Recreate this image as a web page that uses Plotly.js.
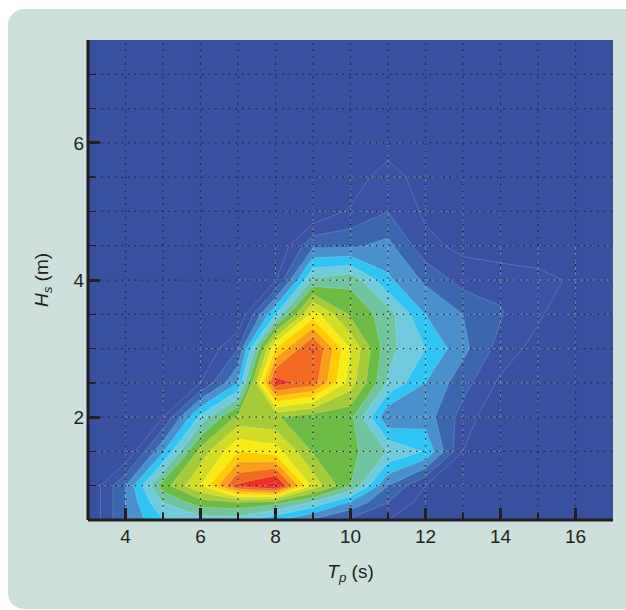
<!DOCTYPE html>
<html><head><meta charset="utf-8">
<script src="https://cdn.plot.ly/plotly-3.0.0.min.js"></script>
<style>
html,body{margin:0;padding:0;background:#fff;width:626px;height:610px;overflow:hidden}
#panel{position:absolute;left:8px;top:9px;width:640px;height:600px;background:#cde0dc;border-radius:16px}
#chart{position:absolute;left:0;top:0;width:626px;height:610px}
</style></head><body>
<div id="panel"></div><div id="chart"></div>
<script>
const tp = [3,4,5,6,7,8,9,10,11,12,13,14,15,16,17];
const hs = [0.5,0.75,1,1.5,2,2.5,3,3.5,4,4.5,5,5.5,6,6.5,7,7.5];
const gridRows = [1,1.5,2,2.5,3,3.5,4,4.5,5,5.5,6,6.5,7];
const row05 = [0,3,5,5.5,5.5,4.2,2.8,1.8,1,0,0,0,0,0,0];
const row075 = [0,3,6,7.5,7.8,7.3,5.8,3.8,2,0.5,0,0,0,0,0];
const row10 = [0,3,7.5,10,14.2,15.5,9.7,7,3,1,0,0,0,0,0];
const row15 = [0,0,3.9,8.4,11,10.5,7.9,7.3,5.95,4.9,1,0,0,0,0];
const row20 = [0,0,1,5.3,8.3,8.1,7.4,7.3,3.1,3.5,1.6,0,0,0,0];
const row25 = [0,0,0,1,4,14.5,13.5,9.5,5.9,4,2.4,0.8,0,0,0];
const row30 = [0,0,0,0,2,11,14.2,10,6.3,5,3.3,1.6,0.6,0,0];
const row35 = [0,0,0,0,0,5,10.5,7.8,6.5,4,3,2.1,1.2,0,0];
const row40 = [0,0,0,0,0,0.9,6.2,6.7,4.2,2.8,1.6,1.7,1.5,0.75,0];
const row45 = [0,0,0,0,0,0,2.8,2.8,3.3,1.3,0.72,0.3,0,0,0];
const row50 = [0,0,0,0,0,0,0,1.2,2,0.8,0,0,0,0,0];
const row55 = [0,0,0,0,0,0,0,0,1.95,0,0,0,0,0,0];
const zero = tp.map(()=>0);
const zGrid = [row05,row075,row10,row15,row20,row25,row30,row35,row40,row45,row50,row55,zero,zero,zero,zero];
const bandColors = ['#3850a0','#3a53a4','#3c66ae','#4a90cc','#2ec5f4','#70cbdc','#70c4a0','#6cbb45','#a5cb38','#d3dc25','#f8ec14','#ffcb05','#f99d1c','#f26b21','#ed2f24','#e8242a'];
const xTickVals = [4,6,8,10,12,14,16];
const yTickVals = [2,4,6];

const n = bandColors.length;
const colorscale = [];
bandColors.forEach((c,i)=>{colorscale.push([i/n,c]);colorscale.push([(i+1)/n,c]);});

const gx=[],gy=[];
tp.slice(1,-1).forEach(v=>{gx.push(v,v,null);gy.push(hs[0],hs[hs.length-1],null);});
gridRows.forEach(v=>{gx.push(tp[0],tp[tp.length-1],null);gy.push(v,v,null);});

const mx=[],my=[];
for(let j=0;j<hs.length-1;j++)for(let i=0;i<tp.length-1;i++){
  const s=zGrid[j][i]+zGrid[j][i+1]+zGrid[j+1][i]+zGrid[j+1][i+1];
  if(s>0.5){
    mx.push(tp[i],tp[i],null,tp[i+1],tp[i+1],null);my.push(hs[j],hs[j+1],null,hs[j],hs[j+1],null);
    if(hs[j]!==0.75){mx.push(tp[i],tp[i+1],null);my.push(hs[j],hs[j],null);}
    if(hs[j+1]!==0.75){mx.push(tp[i],tp[i+1],null);my.push(hs[j+1],hs[j+1],null);}
  }
}

const traces=[
 {type:'contour',x:tp,y:hs,z:zGrid,zmin:0,zmax:n,colorscale:colorscale,showscale:false,hoverinfo:'skip',
  autocontour:false,contours:{coloring:'fill',start:1,end:n-1,size:1},line:{color:'rgba(255,255,255,0.28)',width:0.6,smoothing:0}},
 {type:'scatter',mode:'lines',x:mx,y:my,line:{color:'rgba(255,255,255,0.14)',width:1,dash:'3px,2px'},hoverinfo:'skip',showlegend:false},
 {type:'scatter',mode:'lines',x:gx,y:gy,line:{color:'#231f20',width:1.25,dash:'1.3px,5.4px'},hoverinfo:'skip',showlegend:false}
];
const txt='#231f20', fam='"Liberation Sans",Arial,sans-serif';
const layout={
 width:626,height:610,paper_bgcolor:'rgba(0,0,0,0)',plot_bgcolor:'#3850a0',showlegend:false,
 margin:{l:88,r:13,t:40,b:90},font:{family:fam,color:txt,size:19},
 shapes:[
  {type:'line',xref:'paper',yref:'paper',x0:0,x1:0,y0:0,y1:1,layer:'above',line:{color:txt,width:3}},
  {type:'line',xref:'paper',yref:'paper',x0:0,x1:1,y0:0,y1:0,layer:'above',line:{color:txt,width:3}}
 ],
 xaxis:{range:[3,17],tickmode:'array',tickvals:xTickVals,ticks:'inside',ticklen:12,tickwidth:3,tickcolor:txt,
   showgrid:false,zeroline:false,showline:false,tickfont:{size:19,color:txt},ticklabelstandoff:3,
   minor:{dtick:1,ticks:'inside',ticklen:7,tickwidth:1.3,tickcolor:txt,showgrid:false},
   title:{text:'<i>T<sub>p</sub></i> (s)',font:{size:19,color:txt},standoff:18}},
 yaxis:{range:[0.5,7.5],tickmode:'array',tickvals:yTickVals,ticks:'inside',ticklen:12,tickwidth:3,tickcolor:txt,
   showgrid:false,zeroline:false,showline:false,tickfont:{size:19,color:txt},ticklabelstandoff:3,
   minor:{dtick:0.5,ticks:'inside',ticklen:7,tickwidth:1.3,tickcolor:txt,showgrid:false},
   title:{text:'<i>H<sub>s</sub></i> (m)',font:{size:19,color:txt},standoff:19}}
};
Plotly.newPlot('chart',traces,layout,{displayModeBar:false,staticPlot:true});
</script></body></html>
